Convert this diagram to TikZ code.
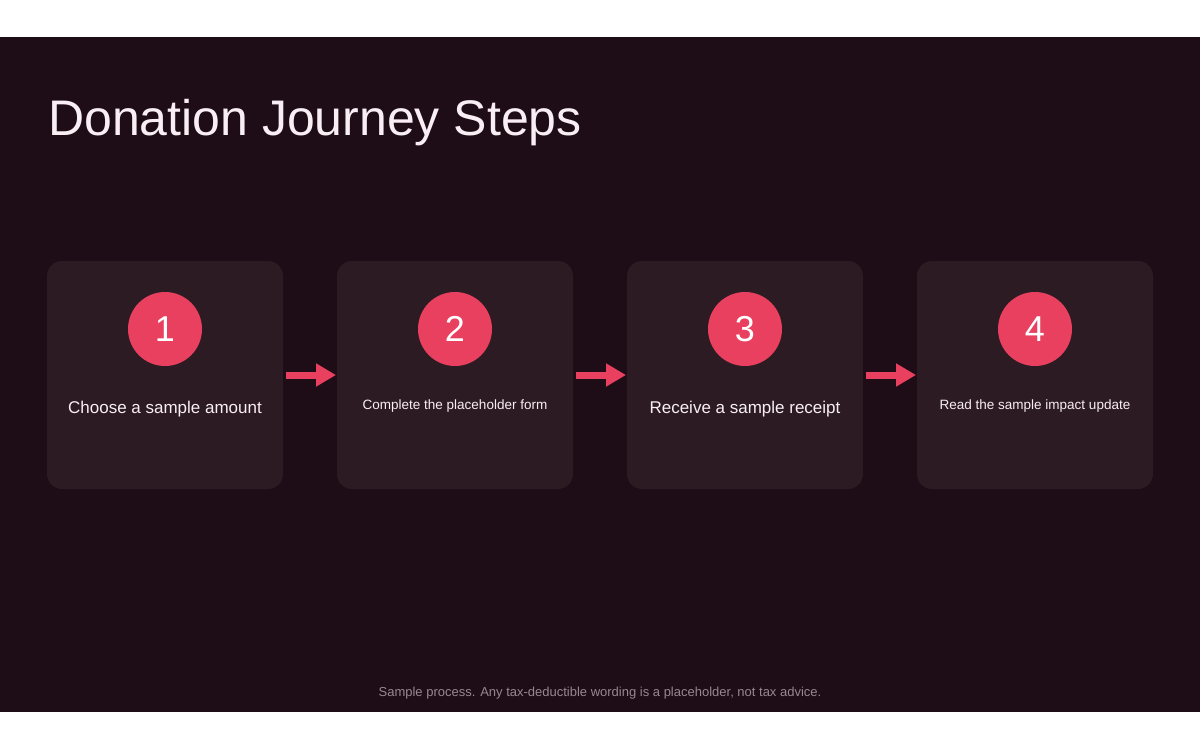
\documentclass[tikz,border=0pt]{standalone}
\usepackage{fontspec}
\setmainfont{Liberation Sans}
\usetikzlibrary{arrows.meta}
\definecolor{bg}{HTML}{1E0C16}
\definecolor{card}{HTML}{2C1B23}
\definecolor{accent}{HTML}{E8405E}
\definecolor{txt}{HTML}{F8EEF3}
\begin{document}
\begin{tikzpicture}[x=1pt,y=-1pt,
  card/.style={fill=card,rounded corners=15pt,draw=none},
  num/.style={circle,fill=accent,minimum size=74pt,inner sep=0,text=white,font=\fontsize{36}{36}\selectfont},
  big/.style={text=txt,font=\fontsize{17}{20}\selectfont},
  small/.style={text=txt,font=\fontsize{13.5}{16}\selectfont},
  arr/.style={draw=accent,line width=7pt,-{Triangle[length=20pt,width=22pt]}}]
\useasboundingbox (0,0) rectangle (1200,750);
\fill[white] (0,0) rectangle (1200,750);
\fill[bg] (0,37) rectangle (1200,712);
\node[anchor=base west,text=txt,font=\fontsize{50}{50}\selectfont,inner sep=0] (title) at (48,135) {Donation Journey Steps};
\foreach \i/\x in {1/47,2/337,3/627,4/917}{
  \path[card] (\x,261) rectangle ++(236,228);
  \node[num] (n\i) at (\x+118,329) {\i};
  \coordinate (L\i) at (\x-1,375);
  \coordinate (R\i) at (\x+239,375);
}
\node[big] (t1) at (165,409) {Choose a sample amount};
\node[small] (t2) at (455,406) {Complete the placeholder form};
\node[big] (t3) at (745,409) {Receive a sample receipt};
\node[small] (t4) at (1035,406) {Read the sample impact update};
\draw[arr] (R1) -- (L2);
\draw[arr] (R2) -- (L3);
\draw[arr] (R3) -- (L4);
\node[text=txt!55!bg,font=\fontsize{13}{15}\selectfont] (foot) at (600,693) {Sample process. Any tax-deductible wording is a placeholder, not tax advice.};
\end{tikzpicture}
\end{document}
